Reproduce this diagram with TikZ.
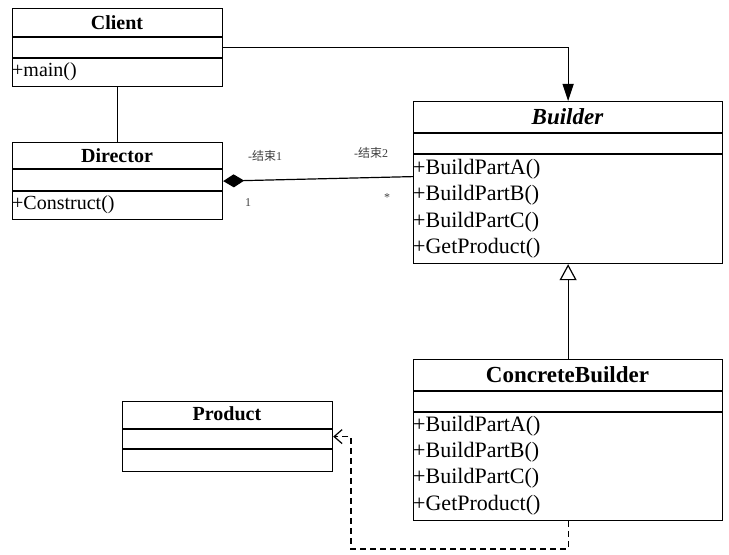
\documentclass[tikz,border=0pt]{standalone}
\usepackage{fontspec}
\setmainfont{Liberation Serif}
\newfontfamily\cjk{Noto Sans CJK SC}
\usetikzlibrary{arrows.meta}
\tikzset{
  classbox/.style={draw, anchor=north west, inner sep=0pt, line width=1.2bp},
  divider/.style={line width=1.2bp},
  titleA/.style={inner sep=0pt, font=\fontsize{20bp}{24bp}\selectfont\bfseries},
  titleB/.style={inner sep=0pt, font=\fontsize{23bp}{27bp}\selectfont\bfseries},
  opA/.style={inner sep=0pt, anchor=west, font=\fontsize{20bp}{24bp}\selectfont},
  opB/.style={inner sep=0pt, anchor=west, font=\fontsize{22bp}{26bp}\selectfont},
  rolelabel/.style={inner sep=0pt, text=black!75, font=\fontsize{12bp}{14bp}\selectfont},
  conn/.style={line width=1.2bp}
}
\begin{document}
\begin{tikzpicture}[x=1bp,y=-1bp]
\useasboundingbox (0,0) rectangle (729,555);

% Client
\node[classbox, minimum width=210bp, minimum height=78bp] (client) at (12,8) {};
\draw[divider] (12,37) -- (222,37);
\draw[divider] (12,58) -- (222,58);
\node[titleA] (clientT) at (117,22.5) {Client};
\node[opA] (clientO) at (12,72) {+main()};

% Director
\node[classbox, minimum width=210bp, minimum height=77bp] (director) at (12,142) {};
\draw[divider] (12,169) -- (222,169);
\draw[divider] (12,191) -- (222,191);
\node[titleA] (directorT) at (117,155.5) {Director};
\node[opA] (directorO) at (12,205) {+Construct()};

% Builder
\node[classbox, minimum width=309bp, minimum height=162bp] (builder) at (413,101) {};
\draw[divider] (413,133) -- (722,133);
\draw[divider] (413,154) -- (722,154);
\node[titleB, font=\fontsize{23bp}{27bp}\selectfont\bfseries\itshape] (builderT) at (567.5,117) {Builder};
\node[opB] (bo1) at (413,169) {+BuildPartA()};
\node[opB] (bo2) at (413,195.5) {+BuildPartB()};
\node[opB] (bo3) at (413,222) {+BuildPartC()};
\node[opB] (bo4) at (413,248) {+GetProduct()};

% ConcreteBuilder
\node[classbox, minimum width=309bp, minimum height=161bp] (concrete) at (413,359) {};
\draw[divider] (413,391) -- (722,391);
\draw[divider] (413,412) -- (722,412);
\node[titleB] (concreteT) at (567.5,375) {ConcreteBuilder};
\node[opB] (co1) at (413,426) {+BuildPartA()};
\node[opB] (co2) at (413,452) {+BuildPartB()};
\node[opB] (co3) at (413,478.5) {+BuildPartC()};
\node[opB] (co4) at (413,505) {+GetProduct()};

% Product
\node[classbox, minimum width=210bp, minimum height=70bp] (product) at (122,401) {};
\draw[divider] (122,429) -- (332,429);
\draw[divider] (122,449) -- (332,449);
\node[titleA] (productT) at (227,414) {Product};

% Connectors
\draw[conn, -{Triangle[length=17bp,width=11bp]}] (client.east) -| (builder.north);
\draw[conn] (client.south) -- (director.north);
\draw[conn, {Diamond[length=21bp,width=13bp]}-] (director.east) -- ([yshift=6bp]builder.west);
\draw[conn, -{Triangle[open,length=16bp,width=17bp]}] (concrete.north) -- (builder.south);
\coordinate (dcorner) at (351,549);
\draw[conn, dash pattern=on 6bp off 4bp, -{Straight Barb[length=8bp,width=14bp]}]
  (concrete.south) |- (dcorner) |- (product.east);

% Role labels
\node[rolelabel] (r1) at (265,156) {-{\cjk 结束}1};
\node[rolelabel] (r2) at (371,153) {-{\cjk 结束}2};
\node[rolelabel] (m1) at (248,203) {1};
\node[rolelabel] (m2) at (387,198) {*};
\end{tikzpicture}
\end{document}
